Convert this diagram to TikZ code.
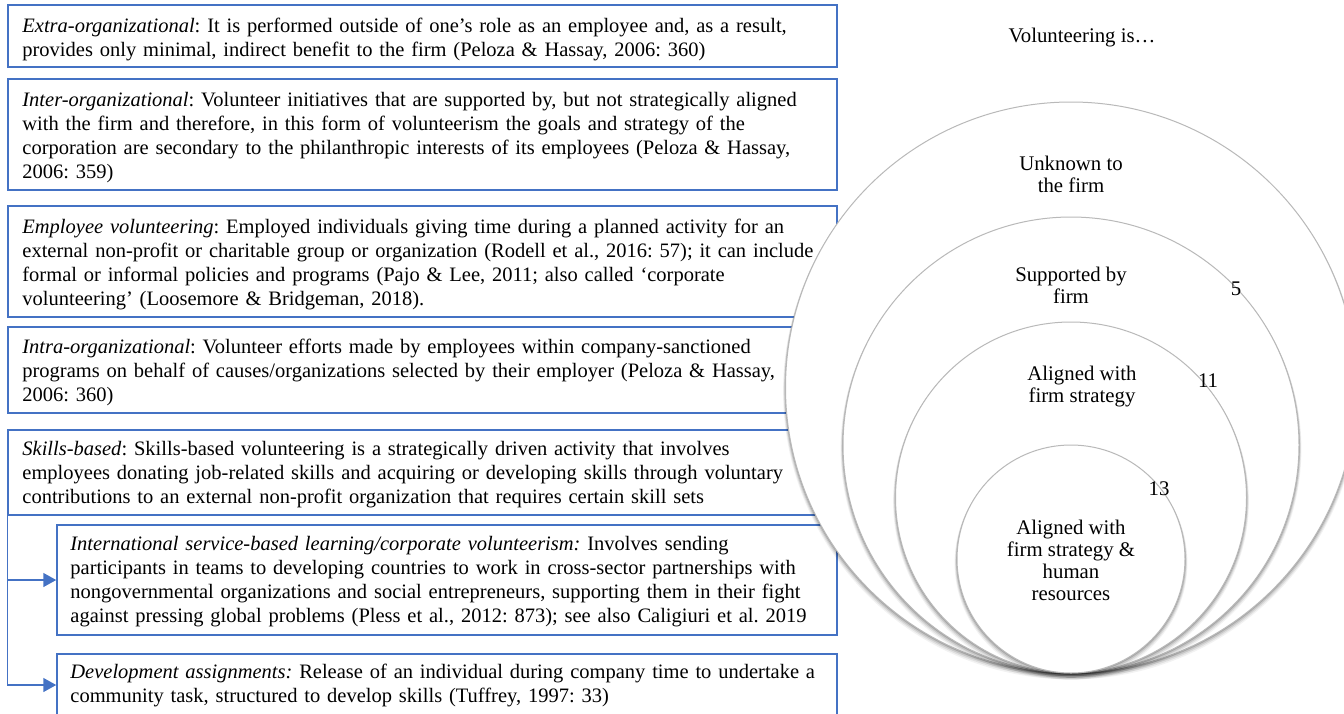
\documentclass[tikz,border=0pt]{standalone}
\usepackage{fontspec}
\setmainfont{Liberation Serif}
\usetikzlibrary{positioning, arrows.meta}
\definecolor{clBoxBd}{RGB}{68,114,196}
\definecolor{clRing} {RGB}{185,185,185}
\tikzset{
  base/.style={
    font=\fontsize{10.25}{12}\selectfont, inner sep=0pt
  },
  defbox/.style={
    rectangle, draw=clBoxBd, line width=0.75pt,
    minimum width=414.5pt, inner sep=0pt
  },
  subbox/.style={
    defbox, minimum width=390pt
  },
  deftext/.style={
    base, anchor=base west, text width=440pt, align=left
  },
  ring/.style={
    circle, fill=white, draw=clRing, line width=0.5pt, inner sep=0pt
  },
  ringlbl/.style={
    base, align=center, font=\fontsize{10.4}{11}\selectfont
  },
  arr/.style={
    -{Triangle[length=6.5pt, width=7pt]},
    line width=0.75pt, draw=clBoxBd
  }
}
\frenchspacing

\begin{document}
\begin{tikzpicture}[x=0.5pt, y=-0.5pt]

    \useasboundingbox (0,0) rectangle (1344,713);
    \clip (0,0) rectangle (1344,713);

    % ============================================================
    % DEFINITION BOXES (frames only, texts come last)
    % ============================================================
    \node (extra)  [defbox, minimum height=31pt]   at (422.5,36)    {};
    \node (inter)  [defbox, minimum height=55.5pt] at (422.5,134.5) {};
    \node (employ) [defbox, minimum height=55.5pt] at (422.5,261.5) {};
    \node (intra)  [defbox, minimum height=43pt]   at (422.5,370)   {};
    \node (skills) [defbox, minimum height=42.5pt] at (422.5,472.5) {};
    \node (intl)   [subbox, minimum height=55pt]   at (447,580)     {};
    \node (devt)   [subbox, minimum height=31pt]   at (447,685)     {};

    % ============================================================
    % CONNECTIONS
    % ============================================================
    \draw [arr] (skills.south west) |- (intl.west);
    \draw [arr] (skills.south west) |- (devt.west);

    % ============================================================
    % NESTED CIRCLES (outer first, each with a soft shadow)
    % ============================================================
    \foreach \nm/\cy/\r in {unknown/387.5/285.5, supported/445/228,
                            aligned/497.5/175.5, alignedhr/559/114} {
      \foreach \s/\o in {4/0.05, 3/0.08, 2/0.11, 1/0.16}
        \fill [black, opacity=\o] (1071,\cy+\s) circle [radius=\r*0.5pt+\s*0.3pt];
      \node (\nm) [ring, minimum size=\r pt] at (1071,\cy) {};
    }

    \node (title)        [ringlbl] at (1082,38)  {Volunteering is…};
    \node (lblUnknown)   [ringlbl] at (1071,174) {Unknown to\\the firm};
    \node (lblSupported) [ringlbl] at (1071,285) {Supported by\\firm};
    \node (lblAligned)   [ringlbl] at (1082,387) {Aligned with\\firm strategy};
    \node (lblAlignedHr) [ringlbl] at (1071,560) {Aligned with\\firm strategy \&\\human\\resources};
    \node (numFive)      [ringlbl] at (1236,289) {5};
    \node (numEleven)    [ringlbl] at (1208,381) {11};
    \node (numThirteen)  [ringlbl] at (1159,489) {13};

    % ============================================================
    % DEFINITION TEXTS
    % ============================================================
    \node (extraT) [deftext] at (22,32.5) {%
      \textit{Extra-organizational}: It is performed outside of one’s role as an employee and, as a result,\\
      provides only minimal, indirect benefit to the firm (Peloza \& Hassay, 2006: 360)};

    \node (interT) [deftext] at (22,106.5) {%
      \textit{Inter-organizational}: Volunteer initiatives that are supported by, but not strategically aligned\\
      with the firm and therefore, in this form of volunteerism the goals and strategy of the\\
      corporation are secondary to the philanthropic interests of its employees (Peloza \& Hassay,\\
      2006: 359)};

    \node (employT) [deftext] at (22,233) {%
      \textit{Employee volunteering}: Employed individuals giving time during a planned activity for an\\
      external non-profit or charitable group or organization (Rodell et al., 2016: 57); it can include\\
      formal or informal policies and programs (Pajo \& Lee, 2011; also called ‘corporate\\
      volunteering’ (Loosemore \& Bridgeman, 2018).};

    \node (intraT) [deftext] at (22,353) {%
      \textit{Intra-organizational}: Volunteer efforts made by employees within company-sanctioned\\
      programs on behalf of causes/organizations selected by their employer (Peloza \& Hassay,\\
      2006: 360)};

    \node (skillsT) [deftext] at (22,455) {%
      \textit{Skills-based}: Skills-based volunteering is a strategically driven activity that involves\\
      employees donating job-related skills and acquiring or developing skills through voluntary\\
      contributions to an external non-profit organization that requires certain skill sets};

    \node (intlT) [deftext] at (70,550) {%
      \textit{International service-based learning/corporate volunteerism:} Involves sending\\
      participants in teams to developing countries to work in cross-sector partnerships with\\
      nongovernmental organizations and social entrepreneurs, supporting them in their fight\\
      against pressing global problems (Pless et al., 2012: 873); see also Caligiuri et al. 2019};

    \node (devtT) [deftext] at (70,678) {%
      \textit{Development assignments:} Release of an individual during company time to undertake a\\
      community task, structured to develop skills (Tuffrey, 1997: 33)};

\end{tikzpicture}
\end{document}
